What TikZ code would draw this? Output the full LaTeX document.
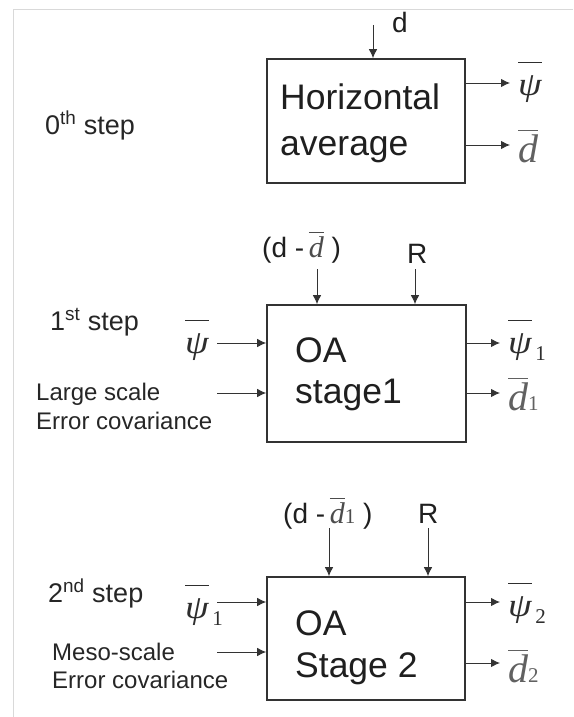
\documentclass[tikz,border=0pt]{standalone}
\usepackage{fontspec}
\setmainfont{Liberation Sans}
\newfontfamily\tms{Liberation Serif}
\usetikzlibrary{arrows.meta}
% overline drawn as a separate bar above the box
\newcommand\ovl[2][5pt]{\begingroup\setbox0\hbox{#2}\vbox{\hrule height 1.5pt width \wd0 \kern #1\box0}\endgroup}
\newcommand\psiv{\scalebox{1.15}[1]{\tms\itshape ψ}}
\newcommand\dv{\tms\itshape d}
\newcommand\subp[1]{\raisebox{-7pt}{\fontsize{21}{21}\selectfont\tms\,#1}}
\newcommand\subd[1]{{\fontsize{21}{21}\selectfont\tms #1}}
\begin{document}
\begin{tikzpicture}[x=1pt,y=-1pt,
  blk/.style={draw=black!80, line width=1.6pt, inner sep=0pt},
  arr/.style={draw=black!80, line width=0.9pt, -{Latex[length=9pt,width=8.5pt]}},
  boxtxt/.style={anchor=base west, inner sep=0pt, text=black!88, font=\fontsize{35.5}{35}\selectfont},
  steptxt/.style={anchor=base west, inner sep=0pt, text=black!85, font=\fontsize{27}{27}\selectfont},
  smalltxt/.style={anchor=base west, inner sep=0pt, text=black!85, font=\fontsize{24}{24}\selectfont},
  toptxt/.style={anchor=base west, inner sep=0pt, text=black!88, font=\fontsize{28}{28}\selectfont},
  mlab/.style={anchor=base west, inner sep=0pt, text=black!82, font=\fontsize{33}{33}\selectfont},
  dlab/.style={anchor=base west, inner sep=0pt, text=black!62, font=\fontsize{40}{40}\selectfont}
]
\useasboundingbox (0,0) rectangle (573,717);
\draw[black!15, line width=1pt] (13,717) -- (13,10) -- (573,10);

% ---- step 0
\node[blk, minimum width=198pt, minimum height=124pt] (b0) at (366,121) {};
\node[boxtxt] (b0a) at (280,109) {Horizontal};
\node[boxtxt] (b0b) at (280,155) {average};
\node[steptxt] (s0) at (45,134) {0\textsuperscript{th} step};
\coordinate (i0) at (373,25);
\node[toptxt] (ld0) at (392,33) {d};
\draw[arr] (i0) -- (i0 |- b0.north);
\coordinate (o0a) at (510,83);
\coordinate (o0b) at (510,145);
\draw[arr] (o0a -| b0.east) -- (o0a);
\draw[arr] (o0b -| b0.east) -- (o0b);
\node[mlab] (p0) at (518,95) {\ovl[12pt]{\psiv}};
\node[dlab] (d0) at (518,162) {\ovl[3pt]{\dv}};

% ---- step 1
\node[blk, minimum width=199pt, minimum height=137pt] (b1) at (366.5,373.5) {};
\node[boxtxt] (b1a) at (295,362) {OA};
\node[boxtxt] (b1b) at (295,403) {stage1};
\node[steptxt] (s1) at (50,330) {1\textsuperscript{st} step};
\node[mlab] (pin1) at (185,353) {\ovl[12pt]{\psiv}};
\node[smalltxt] (l1a) at (36,400) {Large scale};
\node[smalltxt] (l1b) at (36,429) {Error covariance};
\coordinate (in1a) at (217,343);
\coordinate (in1b) at (217,393);
\draw[arr] (in1a) -- (in1a -| b1.west);
\draw[arr] (in1b) -- (in1b -| b1.west);
\node[toptxt] (t1) at (262,257) {(d -\,{\fontsize{30}{30}\selectfont\color{black!70}\ovl[3pt]{\dv}}\;)};
\node[toptxt] (r1) at (407,263) {R};
\coordinate (i1a) at (317,269);
\coordinate (i1b) at (415,269);
\draw[arr] (i1a) -- (i1a |- b1.north);
\draw[arr] (i1b) -- (i1b |- b1.north);
\coordinate (o1a) at (500,343);
\coordinate (o1b) at (500,393);
\draw[arr] (o1a -| b1.east) -- (o1a);
\draw[arr] (o1b -| b1.east) -- (o1b);
\node[mlab] (p1) at (508,353) {\ovl[12pt]{\psiv}\subp{1}};
\node[dlab] (d1) at (508,410) {\ovl[3pt]{\dv}\subd{1}};

% ---- step 2
\node[blk, minimum width=198pt, minimum height=123pt] (b2) at (366,638.5) {};
\node[boxtxt] (b2a) at (295,635) {OA};
\node[boxtxt] (b2b) at (295,677) {Stage 2};
\node[steptxt] (s2) at (48,602) {2\textsuperscript{nd} step};
\node[mlab] (pin2) at (185,618) {\ovl[12pt]{\psiv}\subp{1}};
\node[smalltxt] (l2a) at (52,660) {Meso-scale};
\node[smalltxt] (l2b) at (52,688) {Error covariance};
\coordinate (in2a) at (217,602);
\coordinate (in2b) at (217,652);
\draw[arr] (in2a) -- (in2a -| b2.west);
\draw[arr] (in2b) -- (in2b -| b2.west);
\node[toptxt] (t2) at (283,523) {(d -\,{\fontsize{30}{30}\selectfont\color{black!70}\ovl[3pt]{\dv}\subd{1}}\;)};
\node[toptxt] (r2) at (418,523) {R};
\coordinate (i2a) at (329,528);
\coordinate (i2b) at (428,528);
\draw[arr] (i2a) -- (i2a |- b2.north);
\draw[arr] (i2b) -- (i2b |- b2.north);
\coordinate (o2a) at (500,602);
\coordinate (o2b) at (500,663);
\draw[arr] (o2a -| b2.east) -- (o2a);
\draw[arr] (o2b -| b2.east) -- (o2b);
\node[mlab] (p2) at (508,616) {\ovl[12pt]{\psiv}\subp{2}};
\node[dlab] (d2) at (508,682) {\ovl[3pt]{\dv}\subd{2}};
\end{tikzpicture}
\end{document}
